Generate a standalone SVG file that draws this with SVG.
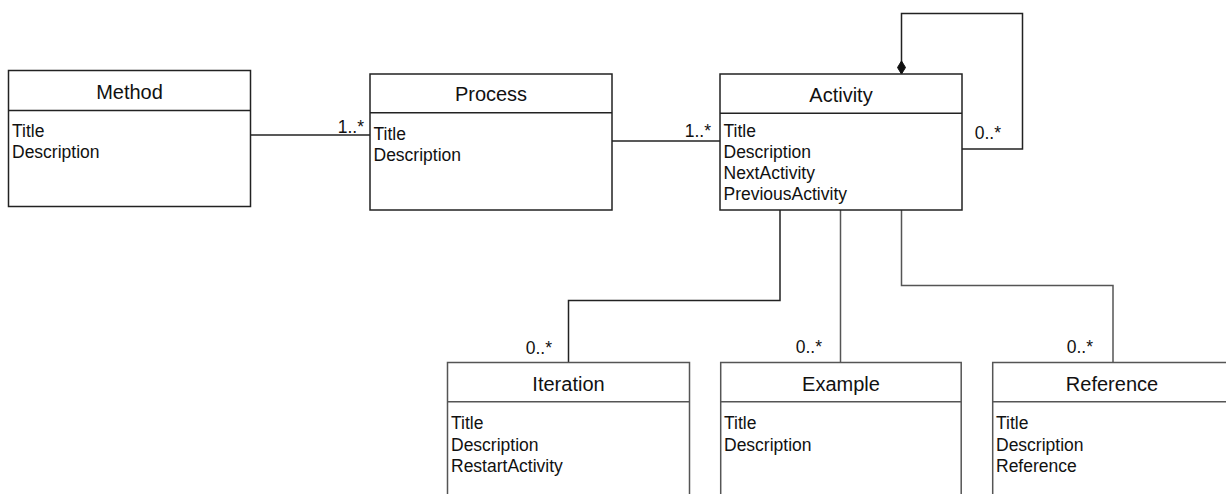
<svg xmlns="http://www.w3.org/2000/svg" width="1226" height="494" viewBox="0 0 1226 494">
<defs>
<style>
.box{fill:#fff;stroke:#222;stroke-width:1.5}
.box2{fill:#fff;stroke:#555;stroke-width:1.5}
.line{fill:none;stroke:#222;stroke-width:1.5}
.line2{fill:none;stroke:#555;stroke-width:1.5}
.hdr{font-family:"Liberation Sans",Arial,sans-serif;font-size:20px;fill:#111;text-anchor:middle}
.att{font-family:"Liberation Sans",Arial,sans-serif;font-size:17.5px;fill:#111}
.lbl{font-family:"Liberation Sans",Arial,sans-serif;font-size:17.5px;fill:#111;text-anchor:end}
</style>
</defs>
<rect width="1226" height="494" fill="#fff"/>
<g id="connectors">
<path class="line" d="M250.5,135 H370"/>
<text class="lbl" x="364" y="133">1..*</text>
<path class="line" d="M612,141 H720"/>
<text class="lbl" x="711" y="137">1..*</text>
<path class="line" d="M962,149 H1022.5 V13.5 H901.5 V74"/>
<path d="M901.5,61 L905.5,67.5 L901.5,74 L897.5,67.5 Z" fill="#111" stroke="#111" stroke-width="1"/>
<text class="lbl" x="1001" y="139">0..*</text>
<path class="line" d="M780,210 V300.5 H568.5 V362.5"/>
<text class="lbl" x="552" y="354">0..*</text>
<path class="line2" d="M840.5,210 V362.5"/>
<text class="lbl" x="822" y="353">0..*</text>
<path class="line2" d="M901.5,210 V285.5 H1113 V362.5"/>
<text class="lbl" x="1093" y="353">0..*</text>
</g>
<g id="method">
<rect class="box" x="8.5" y="70.5" width="242" height="136"/>
<path class="line" d="M8.5,110.5 H250.5"/>
<text class="hdr" x="129.5" y="99">Method</text>
<text class="att" x="12" y="137">Title</text>
<text class="att" x="12" y="158">Description</text>
</g>
<g id="process">
<rect class="box" x="370" y="74" width="242" height="136"/>
<path class="line" d="M370,112.7 H612"/>
<text class="hdr" x="491" y="100.5">Process</text>
<text class="att" x="373.5" y="140">Title</text>
<text class="att" x="373.5" y="161">Description</text>
</g>
<g id="activity">
<rect class="box" x="720" y="74" width="242" height="136"/>
<path class="line" d="M720,113.3 H962"/>
<text class="hdr" x="841" y="101.5">Activity</text>
<text class="att" x="723.5" y="136.7">Title</text>
<text class="att" x="723.5" y="157.7">Description</text>
<text class="att" x="723.5" y="178.7">NextActivity</text>
<text class="att" x="723.5" y="199.8">PreviousActivity</text>
</g>
<g id="iteration">
<rect class="box2" x="447.5" y="362.5" width="242" height="150"/>
<path class="line2" d="M447.5,401.7 H689.5"/>
<text class="hdr" x="568.5" y="390.7">Iteration</text>
<text class="att" x="451" y="429.3">Title</text>
<text class="att" x="451" y="450.5">Description</text>
<text class="att" x="451" y="471.7">RestartActivity</text>
</g>
<g id="example">
<rect class="box2" x="720.7" y="362.5" width="240.5" height="150"/>
<path class="line2" d="M720.7,401.7 H961.2"/>
<text class="hdr" x="841" y="390.7">Example</text>
<text class="att" x="724" y="429.3">Title</text>
<text class="att" x="724" y="450.5">Description</text>
</g>
<g id="reference">
<rect class="box2" x="992.7" y="362.5" width="242" height="150"/>
<path class="line2" d="M992.7,401.7 H1234.7"/>
<text class="hdr" x="1112" y="390.7">Reference</text>
<text class="att" x="996" y="429.3">Title</text>
<text class="att" x="996" y="450.5">Description</text>
<text class="att" x="996" y="471.7">Reference</text>
</g>
</svg>
